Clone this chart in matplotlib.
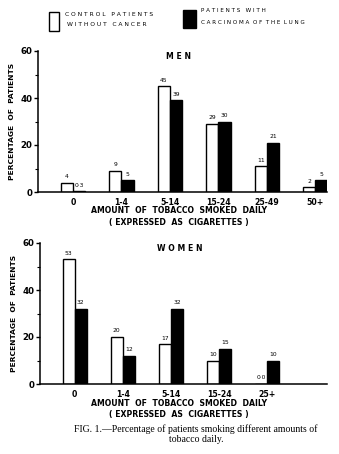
import matplotlib
matplotlib.use("Agg")
import matplotlib.pyplot as plt
from matplotlib.patches import Rectangle
import numpy as np

# Data
men_groups = ["0", "1-4", "5-14", "15-24", "25-49", "50+"]
men_control = [4, 9, 45, 29, 11, 2]
men_lung = [0.3, 5, 39, 30, 21, 5]

women_groups = ["0", "1-4", "5-14", "15-24", "25+"]
women_control = [53, 20, 17, 10, 0]
women_lung = [32, 12, 32, 15, 10]

y_ticks = [0, 20, 40, 60]

W, H = 339, 454
fig = plt.figure(figsize=(W / 100, H / 100), dpi=100)
fig.patch.set_facecolor("white")

LET = dict(family="DejaVu Sans", color="black")


def fx(x):
    return x / W


def fy(y):
    return 1 - y / H


def fmt(v):
    if v == int(v):
        return "0·0" if v == 0 else str(int(v))
    return f"{v:.1f}".replace(".", "·")


def panel(rect, groups, control, lung, title):
    ax = fig.add_axes(rect)
    x = np.arange(len(groups))
    bw = 0.25
    ax.bar(x - bw / 2, control, width=bw, facecolor="white", edgecolor="black",
           linewidth=1.0, zorder=2)
    ax.bar(x + bw / 2, lung, width=bw, facecolor="black", edgecolor="black",
           linewidth=1.0, zorder=2)
    for xi, v in zip(x, control):
        ax.text(xi - bw / 2, v + 1.5, fmt(v), ha="center", va="bottom",
                fontsize=4.3, **LET)
    for xi, v in zip(x, lung):
        ax.text(xi + bw / 2, v + 1.5, fmt(v), ha="center", va="bottom",
                fontsize=4.3, **LET)
    ax.set_xlim(-0.72, 5.24)
    ax.set_ylim(0, 60)
    for s in ["top", "right"]:
        ax.spines[s].set_visible(False)
    ax.spines["left"].set_linewidth(1.1)
    ax.spines["bottom"].set_linewidth(1.1)
    ax.set_yticks(y_ticks)
    ax.set_yticklabels([str(t) for t in y_ticks], fontsize=6.2, fontweight="bold", **LET)
    ax.set_yticks([10, 30, 50], minor=True)
    ax.tick_params(axis="y", which="major", length=3, width=1, direction="out", pad=1)
    ax.tick_params(axis="y", which="minor", length=2, width=0.8, direction="out")
    ax.set_xticks(x)
    ax.set_xticklabels(groups, fontsize=5.6, fontweight="bold", **LET)
    ax.tick_params(axis="x", length=0, pad=4)
    ax.text(0.486, 0.995, title, transform=ax.transAxes, ha="center", va="top",
            fontsize=5.6, fontweight="bold", **LET)
    return ax


# Men panel
ax_m = panel([fx(38), fy(192), fx(327) - fx(38), fy(51) - fy(192)],
             men_groups, men_control, men_lung, "M E N")
# Women panel
ax_w = panel([fx(40), fy(384), fx(327) - fx(40), fy(243) - fy(384)],
             women_groups, women_control, women_lung, "W O M E N")

# Axis titles
for yc, xc in [(121, 12), (313, 14)]:
    fig.text(fx(xc), fy(yc), "PERCENTAGE  OF  PATIENTS", rotation=90,
             ha="center", va="center", fontsize=5.4, fontweight="bold", **LET)
for y1 in [210, 403]:
    fig.text(fx(179), fy(y1), "AMOUNT  OF  TOBACCO  SMOKED  DAILY",
             ha="center", va="center", fontsize=5.6, fontweight="bold", **LET)
    fig.text(fx(179), fy(y1 + 12), "( EXPRESSED  AS  CIGARETTES )",
             ha="center", va="center", fontsize=5.6, fontweight="bold", **LET)

# Legend
fig.add_artist(Rectangle((fx(49), fy(31)), fx(10), 19 / H, transform=fig.transFigure,
                         facecolor="white", edgecolor="black", linewidth=1.0))
fig.add_artist(Rectangle((fx(183), fy(28)), fx(13), 18 / H, transform=fig.transFigure,
                         facecolor="black", edgecolor="black", linewidth=1.0))
fig.text(fx(65), fy(14), "C O N T R O L   P A T I E N T S", ha="left", va="center",
         fontsize=4.3, **LET)
fig.text(fx(67), fy(25), "W I T H O U T   C A N C E R", ha="left", va="center",
         fontsize=4.3, **LET)
fig.text(fx(201), fy(11), "P A T I E N T S   W I T H", ha="left", va="center",
         fontsize=4.1, **LET)
fig.text(fx(201), fy(23), "C A R C I N O M A  O F  T H E  L U N G", ha="left",
         va="center", fontsize=4.1, **LET)

# Caption
fig.text(fx(196), fy(429), "FIG. 1.—Percentage of patients smoking different amounts of",
         ha="center", va="center", fontsize=7.0, family="Liberation Serif")
fig.text(fx(196), fy(440), "tobacco daily.",
         ha="center", va="center", fontsize=7.0, family="Liberation Serif")

fig.savefig("out.png", dpi=100, facecolor="white")
